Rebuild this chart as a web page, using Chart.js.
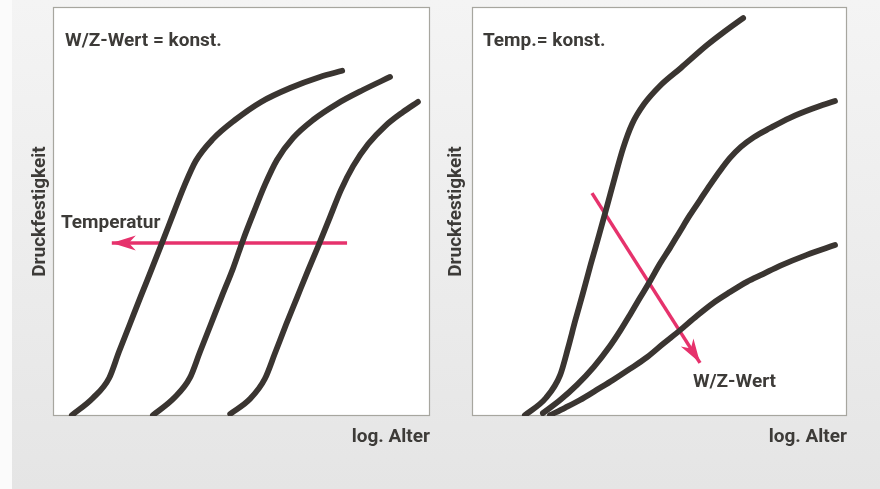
<!DOCTYPE html>
<html>
<head>
<meta charset="utf-8">
<script src="https://cdn.jsdelivr.net/npm/chart.js@4.4.1/dist/chart.umd.min.js"></script>
<style>
  html, body { margin: 0; padding: 0; }
  body { width: 880px; height: 489px; overflow: hidden; position: relative;
         background: linear-gradient(180deg, #f4f4f4 0%, #ececec 55%, #e5e5e5 100%); }
  #strip { position: absolute; left: 0; top: 0; width: 12px; height: 489px; background: #fbfbfb; }
  .panel { position: absolute; top: 0; width: 440px; height: 489px; }
</style>
</head>
<body>
<div id="strip"></div>
<div class="panel" style="left:0"><canvas id="left" width="440" height="489"></canvas></div>
<div class="panel" style="left:440px"><canvas id="right" width="440" height="489"></canvas></div>
<script>
// ---------- data (x: log. Alter, y: Druckfestigkeit, both on a 0..100 relative scale) ----------
// Left panel: W/Z-Wert = konst., curves shifted by temperature
const leftCurve1X = [5.0, 10.6, 14.9, 17.5, 20.4, 23.3, 26.3, 29.2, 32.1, 34.8, 37.9, 42.4, 48.3, 55.2, 62.9, 70.8, 76.7];
const leftCurve1Y = [0.2, 4.4, 9.3, 15.7, 22.5, 29.3, 36.2, 43.0, 49.9, 56.2, 62.4, 67.7, 72.4, 76.8, 80.2, 82.9, 84.4];
const leftCurve2X = [26.5, 32.1, 36.3, 39.0, 41.9, 44.8, 47.8, 50.4, 53.3, 56.2, 59.4, 63.7, 69.0, 75.3, 82.2, 89.4];
const leftCurve2Y = [0.2, 4.4, 9.3, 15.7, 22.5, 29.3, 36.2, 43.0, 49.9, 56.5, 62.6, 68.0, 72.4, 76.3, 79.7, 82.9];
const leftCurve3X = [47.0, 52.3, 56.2, 58.9, 61.8, 64.7, 67.6, 70.6, 73.5, 76.4, 79.6, 83.6, 88.1, 92.8, 96.8];
const leftCurve3Y = [0.5, 4.2, 9.1, 15.4, 22.3, 28.9, 35.5, 42.1, 48.7, 55.3, 61.1, 66.5, 70.9, 74.3, 76.8];
const leftArrowX = [78.0, 15.6];
const leftArrowY = [42.3, 42.3];

// Right panel: Temp. = konst., curves for increasing W/Z-Wert
const rightCurve1X = [14.1, 19.7, 23.5, 25.6, 27.5, 29.6, 31.7, 33.9, 36.0, 38.1, 40.3, 42.7, 45.9, 50.1, 55.7, 62.7, 67.5, 72.3];
const rightCurve1Y = [0.2, 4.4, 10.0, 16.6, 23.2, 30.1, 37.2, 44.3, 51.3, 58.4, 65.5, 71.4, 76.3, 80.7, 85.1, 90.7, 94.1, 97.3];
const rightCurve2X = [18.9, 23.5, 28.0, 32.5, 36.8, 39.5, 42.1, 44.8, 47.5, 50.1, 52.8, 55.5, 58.1, 60.8, 63.5, 66.1, 68.8, 71.7, 75.2, 79.5, 84.8, 90.7, 96.8];
const rightCurve2Y = [0.7, 3.9, 7.6, 12.0, 17.1, 20.8, 24.7, 28.9, 33.0, 37.2, 41.1, 45.2, 49.1, 52.8, 56.5, 59.9, 63.1, 65.8, 68.2, 70.4, 72.9, 75.1, 77.0];
const rightCurve3X = [20.8, 24.8, 28.8, 33.3, 37.6, 42.1, 46.7, 50.9, 55.5, 60.0, 64.3, 68.8, 73.3, 77.6, 82.1, 89.3, 96.8];
const rightCurve3Y = [0.2, 2.0, 3.9, 6.4, 8.8, 11.5, 14.4, 17.6, 21.0, 24.5, 27.6, 30.3, 32.8, 34.7, 36.7, 39.4, 41.8];
const rightArrowX = [32.0, 60.8];
const rightArrowY = [54.5, 13.0];

// ---------- texts ----------
const xAxisTitle = 'log. Alter';
const yAxisTitle = 'Druckfestigkeit';
const leftNotes = ['W/Z-Wert = konst.', 'Temperatur'];
const leftNotesX = [3.2, 2.1];
const leftNotesY = [90.5, 46.0];
const rightNotes = ['Temp.= konst.', 'W/Z-Wert'];
const rightNotesX = [2.9, 58.9];
const rightNotesY = [90.5, 7.1];

// ---------- styling ----------
const TEXT = '#3d3b38';
const CURVE = '#3a3531';
const ARROW = '#e6326c';
const FONT_FAMILY = 'Roboto, "Liberation Sans", sans-serif';
const FONT_SIZE = 19;

function pts(xs, ys) { return xs.map((x, i) => ({ x: x, y: ys[i] })); }

function curve(xs, ys) {
  return { data: pts(xs, ys), showLine: true, borderColor: CURVE, borderWidth: 5.8,
           pointRadius: 0, cubicInterpolationMode: 'monotone', borderCapStyle: 'round',
           borderJoinStyle: 'round', fill: false };
}
function arrow(xs, ys) {
  return { data: pts(xs, ys), showLine: true, borderColor: ARROW, borderWidth: 3.5,
           pointRadius: 0, tension: 0, borderCapStyle: 'butt', fill: false, arrowHead: true };
}

const framePlugin = {
  id: 'frame',
  beforeDraw(chart) {
    const { ctx, chartArea: a } = chart;
    ctx.save();
    ctx.fillStyle = '#ffffff';
    ctx.fillRect(a.left, a.top, a.right - a.left, a.bottom - a.top);
    ctx.restore();
  },
  beforeDatasetsDraw(chart) {
    const { ctx, chartArea: a } = chart;
    ctx.save();
    ctx.strokeStyle = '#a7a69f';
    ctx.lineWidth = 1.2;
    ctx.strokeRect(Math.round(a.left) + 0.5, Math.round(a.top) + 0.5,
                   Math.round(a.right - a.left) - 1, Math.round(a.bottom - a.top) - 1);
    ctx.restore();
  },
  afterDatasetsDraw(chart) {
    const { ctx } = chart;
    const xs = chart.scales.x, ys = chart.scales.y;
    chart.data.datasets.forEach(ds => {
      if (!ds.arrowHead) return;
      const n = ds.data.length;
      const p1 = ds.data[n - 2], p2 = ds.data[n - 1];
      const x1 = xs.getPixelForValue(p1.x), y1 = ys.getPixelForValue(p1.y);
      const x2 = xs.getPixelForValue(p2.x), y2 = ys.getPixelForValue(p2.y);
      const ang = Math.atan2(y2 - y1, x2 - x1);
      const L = 24, W = 7.5, notch = 17;
      ctx.save();
      ctx.translate(x2, y2);
      ctx.rotate(ang);
      ctx.fillStyle = ds.borderColor;
      ctx.beginPath();
      ctx.moveTo(0, 0);
      ctx.lineTo(-L, -W);
      ctx.lineTo(-notch, 0);
      ctx.lineTo(-L, W);
      ctx.closePath();
      ctx.fill();
      ctx.restore();
    });
    const notes = chart.options.plugins.frame;
    ctx.save();
    ctx.fillStyle = TEXT;
    ctx.font = 'bold ' + FONT_SIZE + 'px ' + FONT_FAMILY;
    ctx.textBaseline = 'alphabetic';
    ctx.textAlign = 'left';
    notes.texts.forEach((t, i) => {
      ctx.fillText(t, xs.getPixelForValue(notes.xs[i]), ys.getPixelForValue(notes.ys[i]));
    });
    ctx.restore();
  }
};

function makeChart(id, datasets, notes, pad, yTitlePad) {
  const font = { family: FONT_FAMILY, size: FONT_SIZE, weight: 'bold', lineHeight: 1.2 };
  return new Chart(document.getElementById(id), {
    type: 'scatter',
    data: { datasets: datasets },
    options: {
      responsive: false,
      animation: false,
      events: [],
      layout: { padding: pad },
      plugins: { legend: { display: false }, tooltip: { enabled: false }, frame: notes },
      scales: {
        x: { type: 'linear', min: 0, max: 100,
             grid: { display: false, drawTicks: false }, border: { display: false },
             ticks: { display: false },
             title: { display: true, text: xAxisTitle, align: 'end', color: TEXT, font: font,
                      padding: { top: 9.6, bottom: 4 } } },
        y: { type: 'linear', min: 0, max: 100,
             grid: { display: false, drawTicks: false }, border: { display: false },
             ticks: { display: false },
             title: { display: true, text: yAxisTitle, align: 'center', color: TEXT, font: font,
                      padding: yTitlePad } }
      }
    },
    plugins: [framePlugin]
  });
}

makeChart('left', [
  curve(leftCurve1X, leftCurve1Y),
  curve(leftCurve2X, leftCurve2Y),
  curve(leftCurve3X, leftCurve3Y),
  arrow(leftArrowX, leftArrowY)
], { texts: leftNotes, xs: leftNotesX, ys: leftNotesY },
   { left: 24.6, right: 10, top: 7, bottom: 36.6 }, { top: 4, bottom: 1.6 });

makeChart('right', [
  curve(rightCurve1X, rightCurve1Y),
  curve(rightCurve2X, rightCurve2Y),
  curve(rightCurve3X, rightCurve3Y),
  arrow(rightArrowX, rightArrowY)
], { texts: rightNotes, xs: rightNotesX, ys: rightNotesY },
   { left: 1.1, right: 33, top: 7, bottom: 36.6 }, { top: 4, bottom: 4.1 });
</script>
</body>
</html>
